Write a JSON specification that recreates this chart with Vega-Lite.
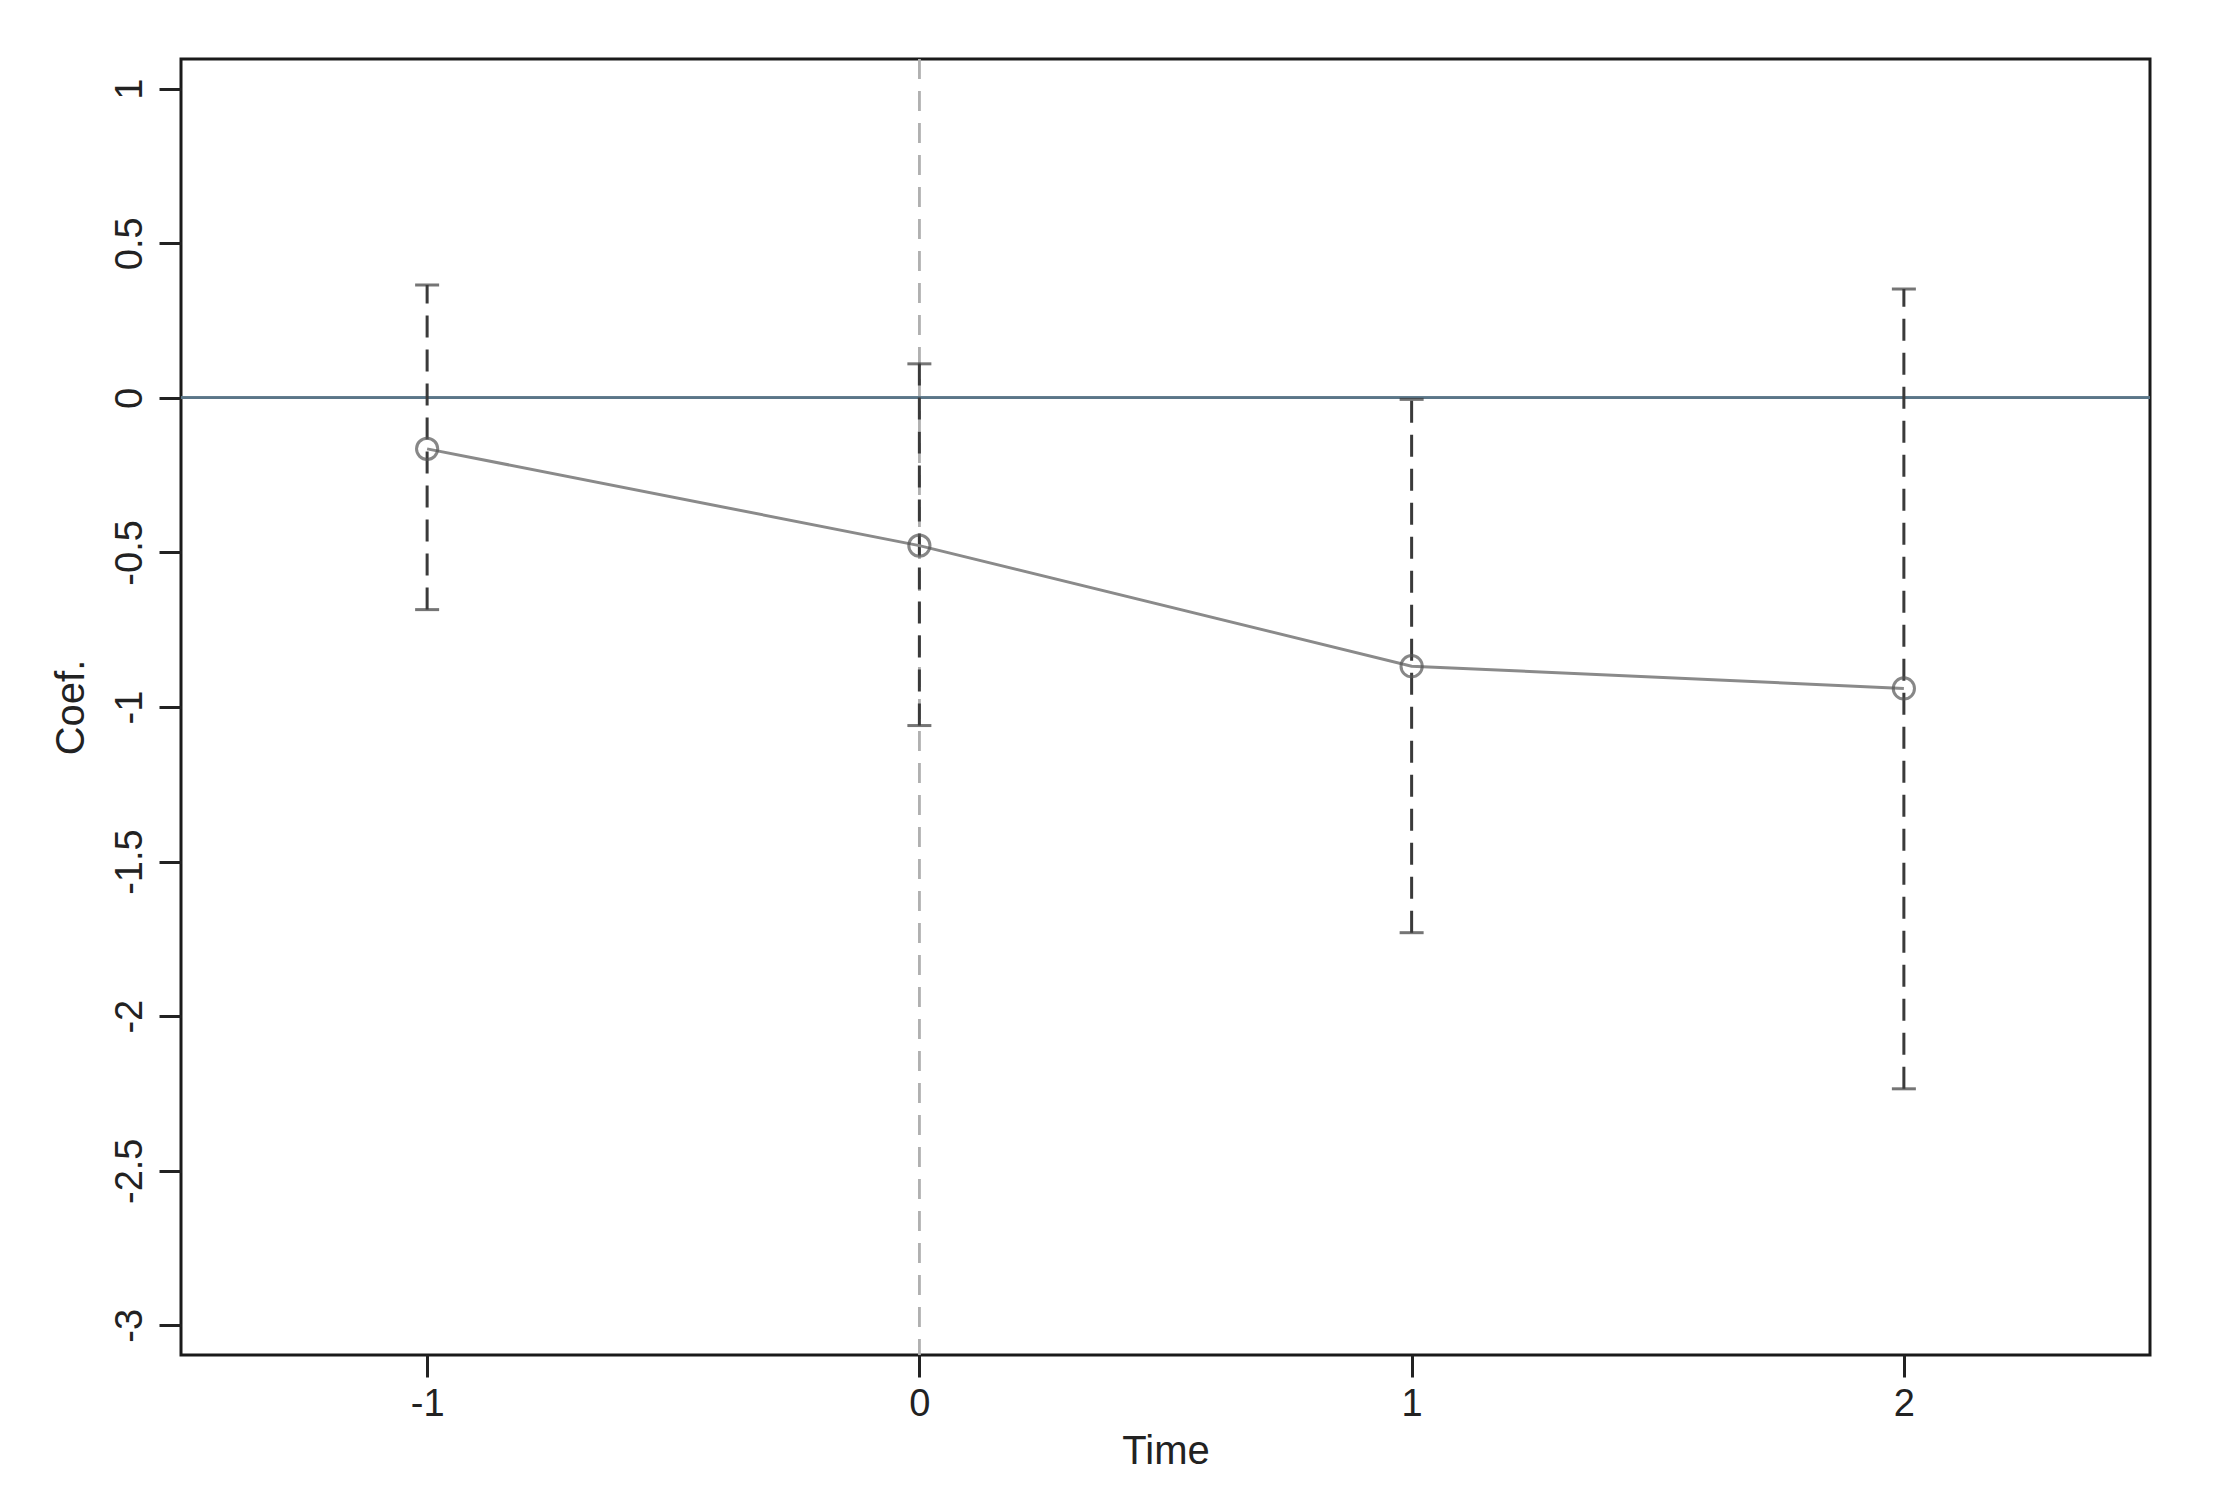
{
  "$schema": "https://vega.github.io/schema/vega-lite/v6.json",
  "autosize": "none",
  "width": 1969,
  "height": 1296,
  "padding": {"left": 181, "top": 59, "right": 63, "bottom": 142},
  "background": "white",
  "config": {
    "view": {"stroke": "#1a1a1a", "strokeWidth": 3},
    "font": "Liberation Sans",
    "axis": {"grid": false, "domain": false, "tickColor": "#222", "tickWidth": 3, "labelColor": "#222", "titleColor": "#222", "labelFont": "Liberation Sans", "titleFont": "Liberation Sans", "titleFontWeight": "normal"}
  },
  "data": {"values": [
    {"time": -1, "coef": -0.165, "lo": -0.685, "hi": 0.365},
    {"time": 0, "coef": -0.478, "lo": -1.06, "hi": 0.11},
    {"time": 1, "coef": -0.868, "lo": -1.73, "hi": -0.005},
    {"time": 2, "coef": -0.94, "lo": -2.235, "hi": 0.352}
  ]},
  "encoding": {
    "x": {"field": "time", "type": "quantitative", "scale": {"domain": [-1.5, 2.5], "nice": false, "zero": false},
      "axis": {"title": "Time", "values": [-1, 0, 1, 2], "tickSize": 22, "labelFontSize": 38, "labelPadding": 8, "titleFontSize": 40, "titlePadding": 8,
        "labelExpr": "replace(format(datum.value, '~g'), '\u2212', '-')"}},
    "y": {"type": "quantitative", "scale": {"domain": [-3.096, 1.096], "nice": false, "zero": false}}
  },
  "layer": [
    {
      "mark": {"type": "rule", "color": "#b0b0b0", "strokeWidth": 2, "strokeDash": [20, 12]},
      "encoding": {"x": {"datum": 0}, "y": null}
    },
    {
      "mark": {"type": "rule", "color": "#5b7688", "strokeWidth": 2.5},
      "encoding": {"y": {"datum": 0}, "x": null}
    },
    {
      "mark": {"type": "rule", "color": "#3a3a3a", "strokeWidth": 3, "strokeDash": [22, 12]},
      "encoding": {"y": {"field": "lo", "type": "quantitative"}, "y2": {"field": "hi"}}
    },
    {
      "mark": {"type": "tick", "orient": "horizontal", "color": "#3a3a3a", "size": 24, "thickness": 3},
      "encoding": {"y": {"field": "hi", "type": "quantitative"}}
    },
    {
      "mark": {"type": "tick", "orient": "horizontal", "color": "#3a3a3a", "size": 24, "thickness": 3},
      "encoding": {"y": {"field": "lo", "type": "quantitative"}}
    },
    {
      "mark": {"type": "line", "color": "#8a8a8a", "strokeWidth": 3},
      "encoding": {"y": {"field": "coef", "type": "quantitative",
        "axis": {"title": "Coef.", "values": [1, 0.5, 0, -0.5, -1, -1.5, -2, -2.5, -3], "tickSize": 22, "labelAngle": -90, "labelAlign": "center", "labelBaseline": "bottom", "labelPadding": 10, "labelFontSize": 38, "titleFontSize": 40, "titlePadding": 20,
          "labelExpr": "replace(format(datum.value, '~g'), '\u2212', '-')"}}}
    },
    {
      "mark": {"type": "point", "shape": "circle", "filled": false, "color": "#555", "strokeWidth": 3, "size": 450},
      "encoding": {"y": {"field": "coef", "type": "quantitative"}}
    }
  ]
}
